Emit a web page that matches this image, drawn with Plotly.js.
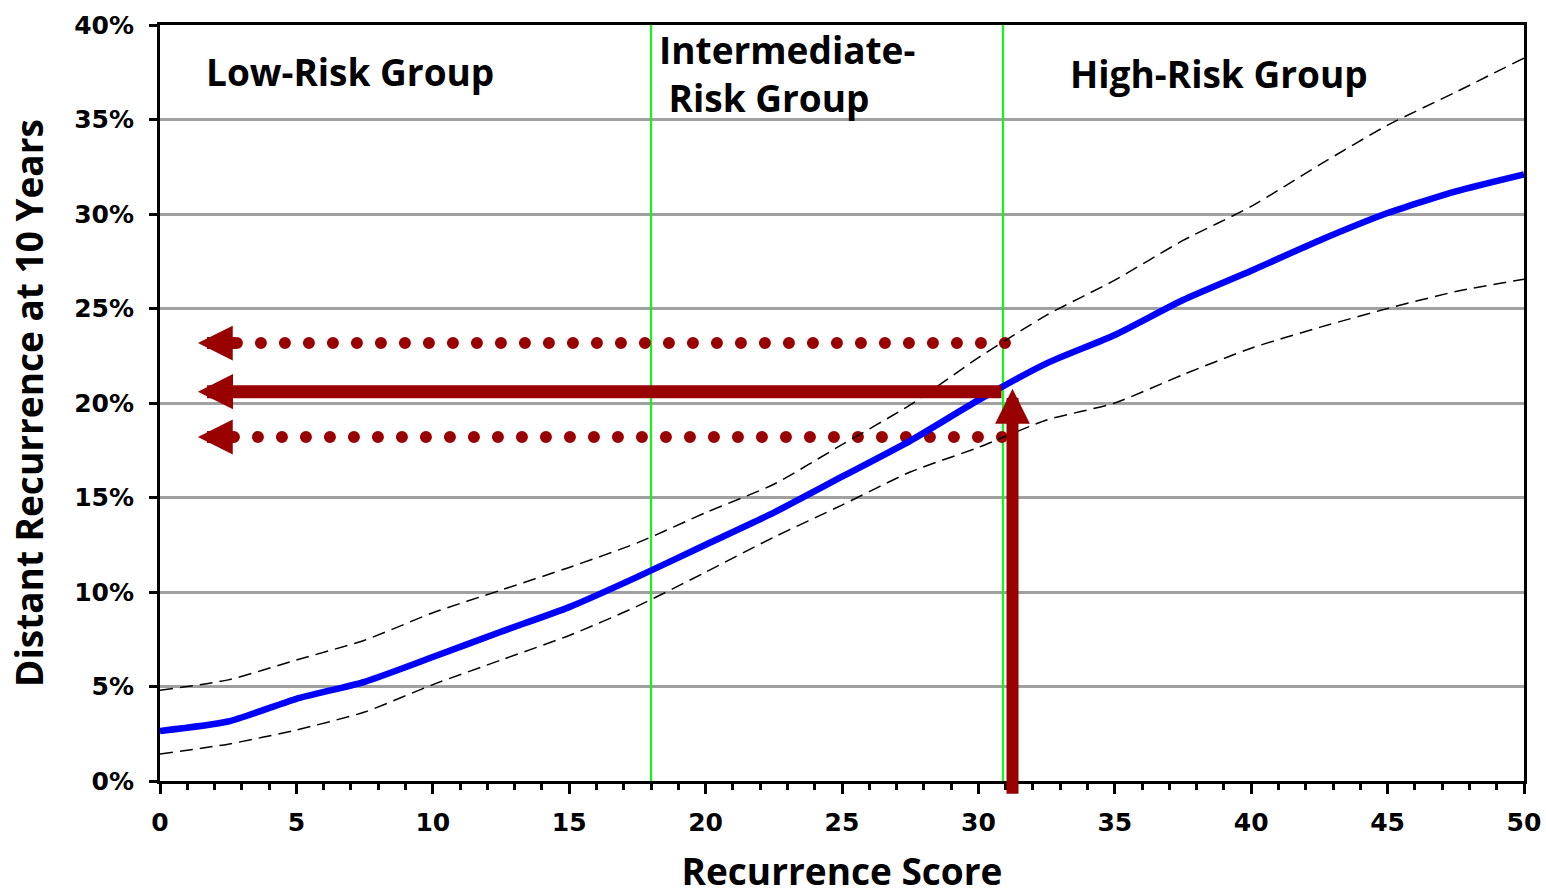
<!DOCTYPE html>
<html>
<head>
<meta charset="utf-8">
<script src="https://cdn.plot.ly/plotly-3.0.1.min.js"></script>
<style>
html,body{margin:0;padding:0;background:#fff;}
#chart{width:1546px;height:896px;}
</style>
</head>
<body>
<div id="chart"></div>
<script>
// Recurrence score grid
const scores = [0,2.5,5,7.5,10,12.5,15,17.5,20,22.5,25,27.5,30,32.5,35,37.5,40,42.5,45,47.5,50];
// Estimated 10-year distant recurrence (fraction)
const riskMean  = [0.0265,0.0315,0.0435,0.0525,0.0656,0.079,0.092,0.108,0.125,0.142,0.161,0.180,0.2015,0.221,0.236,0.2545,0.270,0.286,0.3005,0.312,0.321];
const riskUpper = [0.048,0.0535,0.064,0.0745,0.089,0.101,0.113,0.126,0.142,0.157,0.178,0.199,0.224,0.2465,0.265,0.286,0.304,0.326,0.347,0.3645,0.3825];
const riskLower = [0.0143,0.0195,0.027,0.0365,0.051,0.064,0.077,0.0925,0.1105,0.129,0.146,0.1635,0.1765,0.191,0.200,0.215,0.229,0.240,0.250,0.259,0.2655];

// Risk group cut-offs
const cutoffs = [18, 30.9];
const groupLabels = ["Low-Risk Group", "Intermediate-<br> Risk Group", "High-Risk Group"];
const groupLabelX = [1.6, 18.2, 33.3];
const groupLabelY = [0.3755, 0.3745, 0.3745];

// Example patient reading
const patientScore = 31.25;
const patientRisk = 0.206;
const ciUpper = 0.2317;
const ciLower = 0.182;
const arrowTipX = 1.39;
const dotStartUpper = 2.82, dotEndUpper = 31.0;
const dotStartLower = 2.71, dotEndLower = 30.9;

const darkRed = '#990000';

const traces = [
  {x:[dotStartUpper, dotEndUpper], y:[ciUpper, ciUpper], mode:'lines',
   line:{color:darkRed, width:12, dash:'0px,24px'}, hoverinfo:'skip', cliponaxis:false},
  {x:[dotStartLower, dotEndLower], y:[ciLower, ciLower], mode:'lines',
   line:{color:darkRed, width:12, dash:'0px,24px'}, hoverinfo:'skip', cliponaxis:false},
  {x:scores, y:riskUpper, mode:'lines', line:{color:'#000', width:1.5, dash:'13px,7px', shape:'spline', smoothing:0.6}, hoverinfo:'skip'},
  {x:scores, y:riskLower, mode:'lines', line:{color:'#000', width:1.5, dash:'13px,7px', shape:'spline', smoothing:0.6}, hoverinfo:'skip'},
  {x:scores, y:riskMean, mode:'lines', line:{color:'#0000ff', width:6.5, shape:'spline', smoothing:0.6}, hoverinfo:'skip'}
];

const shapes = cutoffs.map(c => ({
  type:'line', xref:'x', yref:'y', x0:c, x1:c, y0:0, y1:0.40,
  line:{color:'#00ff00', width:2}, layer:'between'
}));

const labelFont = {family:'"Open Sans", sans-serif', size:37, color:'#000', weight:700};

const annotations = [
  {x:groupLabelX[0], y:groupLabelY[0], xref:'x', yref:'y', text:'<b>'+groupLabels[0]+'</b>', showarrow:false, xanchor:'left', yanchor:'middle', font:labelFont},
  {x:groupLabelX[1], y:groupLabelY[1], xref:'x', yref:'y', text:'<b>'+groupLabels[1]+'</b>', showarrow:false, xanchor:'left', yanchor:'middle', align:'left', font:labelFont},
  {x:groupLabelX[2], y:groupLabelY[2], xref:'x', yref:'y', text:'<b>'+groupLabels[2]+'</b>', showarrow:false, xanchor:'left', yanchor:'middle', font:labelFont},
  // solid horizontal arrow
  {x:arrowTipX, y:patientRisk, xref:'x', yref:'y', ax:cutoffs[1], ay:patientRisk, axref:'x', ayref:'y',
   text:'', showarrow:true, arrowhead:2, arrowwidth:13, arrowsize:0.54, arrowcolor:darkRed, standoff:0, startstandoff:0},
  // dotted arrows heads
  {x:arrowTipX, y:ciUpper, xref:'x', yref:'y', ax:dotStartUpper, ay:ciUpper, axref:'x', ayref:'y',
   text:'', showarrow:true, arrowhead:2, arrowwidth:12, arrowsize:0.58, arrowcolor:darkRed, standoff:0, startstandoff:0},
  {x:arrowTipX, y:ciLower, xref:'x', yref:'y', ax:dotStartLower, ay:ciLower, axref:'x', ayref:'y',
   text:'', showarrow:true, arrowhead:2, arrowwidth:12, arrowsize:0.58, arrowcolor:darkRed, standoff:0, startstandoff:0},
  // vertical arrow
  {x:patientScore, y:0.2075, xref:'x', yref:'y', ax:patientScore, ay:-0.0075, axref:'x', ayref:'y',
   text:'', showarrow:true, arrowhead:2, arrowwidth:12, arrowsize:0.58, arrowcolor:darkRed, standoff:0, startstandoff:0}
];

const tickFont = {family:'"DejaVu Sans", sans-serif', size:25, color:'#000', weight:700};
const titleFont = {family:'"Open Sans", sans-serif', size:37, color:'#000', weight:700};

const layout = {
  width:1546, height:896,
  margin:{l:160, r:22, t:25, b:115},
  paper_bgcolor:'#fff', plot_bgcolor:'#fff',
  showlegend:false,
  xaxis:{
    range:[0,50], dtick:5, tick0:0,
    showline:true, linecolor:'#000', linewidth:3, mirror:true,
    ticks:'outside', ticklen:10, tickwidth:3, tickcolor:'#000',
    minor:{dtick:1, ticks:'outside', ticklen:6, tickwidth:3, tickcolor:'#000', showgrid:false},
    showgrid:false, zeroline:false,
    tickfont:tickFont, ticklabelstandoff:7,
    title:{text:'<b>Recurrence Score</b>', font:titleFont, standoff:40}
  },
  yaxis:{
    range:[0,0.40], dtick:0.05, tickformat:'.0%',
    showline:true, linecolor:'#000', linewidth:3, mirror:true,
    ticks:'outside', ticklen:8, tickwidth:3, tickcolor:'#000',
    showgrid:true, gridcolor:'#a0a0a0', gridwidth:3, zeroline:false,
    tickfont:tickFont, ticklabelstandoff:10,
    title:{text:'<b>Distant Recurrence at 10 Years</b>', font:titleFont, standoff:20}
  },
  shapes:shapes,
  annotations:annotations
};

Plotly.newPlot('chart', traces, layout, {staticPlot:true, displayModeBar:false}).then(() => {
  const tr = document.querySelectorAll('.scatterlayer .trace');
  [0,1].forEach(i => {
    if (tr[i]) tr[i].querySelectorAll('path.js-line').forEach(p => p.style.strokeLinecap = 'round');
  });
});
</script>
</body>
</html>
